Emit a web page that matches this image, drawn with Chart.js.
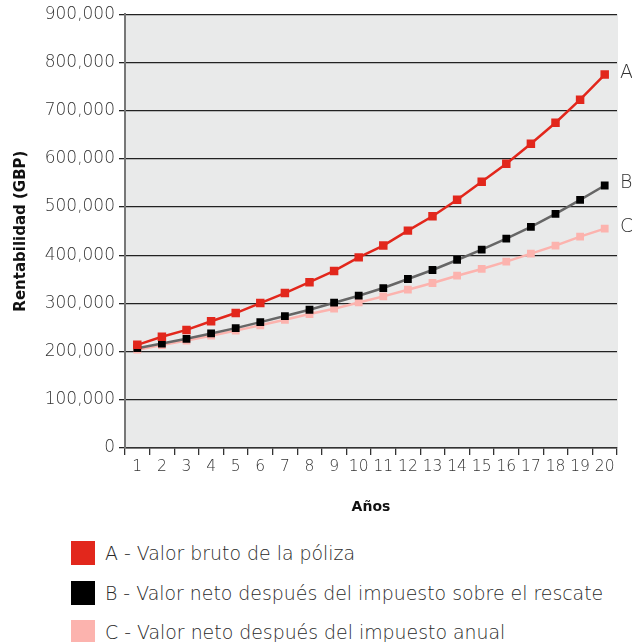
<!DOCTYPE html>
<html>
<head>
<meta charset="utf-8">
<script src="https://cdn.jsdelivr.net/npm/chart.js@4/dist/chart.umd.min.js"></script>
<style>
  body { margin: 0; background: #fff; font-family: "DejaVu Sans", sans-serif; }
  #wrap { position: relative; width: 632px; height: 520px; }
  #legend { position: absolute; left: 71px; top: 541px; }
  .item { display: flex; align-items: center; height: 24px; margin-bottom: 15.5px; font-size: 18.9px; color: #2a2a2a; font-weight: 200; white-space: nowrap; }
  .sw { width: 24px; height: 24px; margin-right: 10px; flex: none; }
</style>
</head>
<body>
<div id="wrap"><canvas id="chart" width="632" height="520"></canvas></div>
<div id="legend"></div>
<script>
// data
const years = ['1','2','3','4','5','6','7','8','9','10','11','12','13','14','15','16','17','18','19','20'];
const grossValue = [214000, 230700, 245000, 263000, 280000, 300700, 321500, 344000, 367300, 395500,
                    419900, 451000, 480800, 514900, 552300, 589700, 631300, 674900, 722700, 774700];
const netSurrender = [207000, 216800, 226600, 237600, 248700, 261200, 273700, 286800, 301400, 316000,
                      331900, 350600, 369300, 390100, 411500, 434400, 458700, 485700, 514900, 544600];
const netAnnual = [204000, 213500, 223000, 233000, 243500, 254500, 266000, 278000, 289000, 302000,
                   314500, 328400, 342300, 357500, 371400, 386600, 403200, 419900, 438600, 455200];
const seriesNames = ['A - Valor bruto de la póliza',
                     'B - Valor neto después del impuesto sobre el rescate',
                     'C - Valor neto después del impuesto anual'];
const endLabels = ['A', 'B', 'C'];

const markerColors = ['#e2271c', '#000000', '#fcb3ae'];
const lineColors = ['#e2271c', '#666666', '#fcb3ae'];
const FONT = '"DejaVu Sans", sans-serif';

// grey plot background
const plotBg = {
    id: 'plotBg',
    beforeDraw(chart) {
        const a = chart.chartArea;
        const ctx = chart.ctx;
        ctx.save();
        ctx.fillStyle = '#e9eaea';
        ctx.fillRect(a.left, a.top, a.right - a.left + 1, a.bottom - a.top);
        ctx.restore();
    }
};

// A / B / C next to the last points
const endText = {
    id: 'endText',
    afterDatasetsDraw(chart) {
        const ctx = chart.ctx;
        ctx.save();
        ctx.font = '200 19px ' + FONT;
        ctx.fillStyle = '#333';
        ctx.textBaseline = 'middle';
        chart.data.datasets.forEach((ds, i) => {
            const pts = chart.getDatasetMeta(i).data;
            const p = pts[pts.length - 1];
            ctx.fillText(endLabels[i], chart.chartArea.right + 3, p.y - 2);
        });
        ctx.restore();
    }
};

const sets = [grossValue, netSurrender, netAnnual].map((vals, i) => ({
    label: seriesNames[i],
    data: vals,
    order: i,
    borderColor: lineColors[i],
    backgroundColor: markerColors[i],
    pointBackgroundColor: markerColors[i],
    pointBorderWidth: 0,
    pointStyle: 'rect',
    pointRadius: i === 0 ? 6 : 5.5,
    borderWidth: 2.5,
    tension: 0
}));

new Chart(document.getElementById('chart'), {
    type: 'line',
    data: { labels: years, datasets: sets },
    options: {
        responsive: false,
        animation: false,
        layout: { padding: { top: 9, right: 15, left: 12, bottom: 0 } },
        plugins: { legend: { display: false }, tooltip: { enabled: false } },
        scales: {
            x: {
                offset: true,
                afterFit(scale) { scale.height = 72; },
                grid: { offset: true, drawOnChartArea: false, tickLength: 7, color: '#333', lineWidth: 1.3 },
                border: { color: '#333', width: 1.5 },
                ticks: { font: { size: 15.5, family: FONT, weight: '200' }, color: '#333', padding: 3, maxRotation: 0, autoSkip: false },
                title: { display: true, text: 'Años', font: { size: 14, weight: 'bold', family: FONT }, color: '#111', padding: { top: 0, bottom: 4 } }
            },
            y: {
                min: 0, max: 900000,
                afterFit(scale) { scale.width = 113; },
                grid: { color: '#222', lineWidth: 1.3, tickLength: 6 },
                border: { color: '#777', width: 2 },
                ticks: {
                    stepSize: 100000,
                    font: { size: 17, family: FONT, weight: '200' }, color: '#333', padding: 4,
                    callback: v => v.toLocaleString('en-US')
                },
                title: { display: true, text: 'Rentabilidad (GBP)', font: { size: 15, weight: 'bold', family: FONT }, color: '#111', padding: { top: 0, bottom: 2 } }
            }
        }
    },
    plugins: [plotBg, endText]
});

// legend below the chart
const legend = document.getElementById('legend');
seriesNames.forEach((name, i) => {
    const row = document.createElement('div');
    row.className = 'item';
    row.innerHTML = '<span class="sw" style="background:' + markerColors[i] + '"></span>' + name;
    legend.appendChild(row);
});
</script>
</body>
</html>
